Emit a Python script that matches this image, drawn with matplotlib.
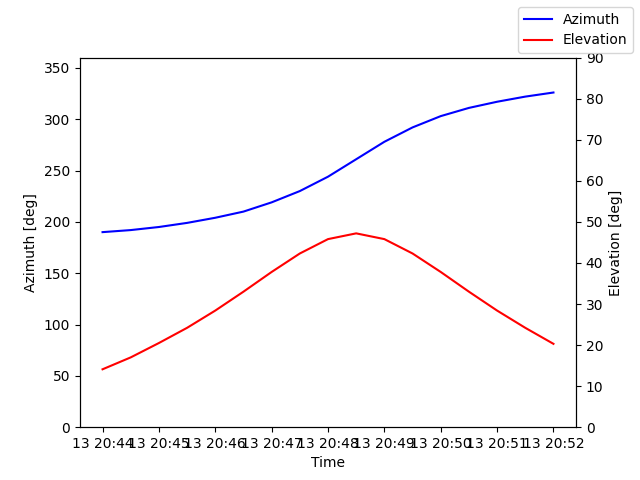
import datetime as dt

import matplotlib

matplotlib.use("Agg")
import matplotlib.pyplot as plt

start = dt.datetime(2023, 5, 13, 20, 44)
times = [start + dt.timedelta(seconds=30 * i) for i in range(17)]
azimuth = [190, 192, 195, 199, 204, 210, 219, 230, 244, 261, 278, 292, 303, 311, 317, 322, 326]
elevation = [14.1, 17.0, 20.5, 24.2, 28.4, 33.0, 37.8, 42.3, 45.8, 47.2, 45.8, 42.3, 37.8, 33.0, 28.4, 24.2, 20.3]

fig, ax = plt.subplots(figsize=(6.4, 4.8), dpi=100)
ax.plot(times, azimuth, color="blue", label="Azimuth")
ax.set_ylim(0, 360)
ax.set_xlabel("Time")
ax.set_ylabel("Azimuth [deg]")

ax2 = ax.twinx()
ax2.plot(times, elevation, color="red", label="Elevation")
ax2.set_ylim(0, 90)
ax2.set_ylabel("Elevation [deg]")

fig.legend(loc="upper right")
fig.savefig("out.png", dpi=100)
